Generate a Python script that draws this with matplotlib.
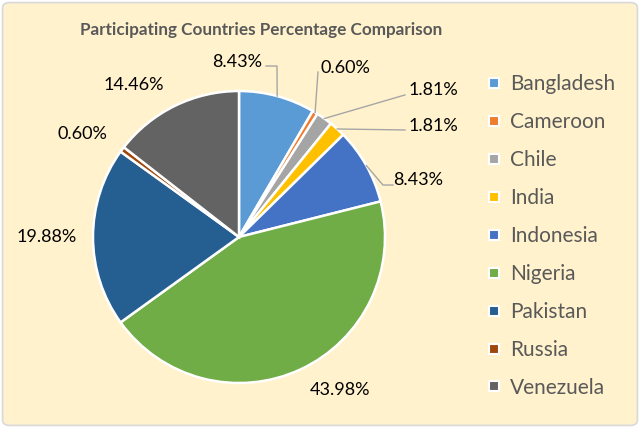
import numpy as np
import matplotlib.pyplot as plt
from matplotlib.lines import Line2D
from matplotlib.patches import FancyBboxPatch

plt.rcParams['font.family'] = ['Lato', 'DejaVu Sans']

countries = ['Bangladesh', 'Cameroon', 'Chile', 'India', 'Indonesia',
             'Nigeria', 'Pakistan', 'Russia', 'Venezuela']
percent = [8.43, 0.60, 1.81, 1.81, 8.43, 43.98, 19.88, 0.60, 14.46]
colors = ['#5B9BD5', '#ED7D31', '#A5A5A5', '#FFC000', '#4472C4',
          '#70AD47', '#255E91', '#9E480E', '#636363']

# label positions (pie radius = 1), and where a leader line ends (None = no line)
label_pos = [(-0.01, 1.20), (0.73, 1.16), (1.33, 1.01), (1.33, 0.76), (1.23, 0.39),
             (0.69, -1.05), (-1.315, 0.0), (-1.07, 0.705), (-0.72, 1.04)]
leader = [[(0.26, 1.171), (0.185, 1.171)], [(0.541, 1.13)], [(1.137, 0.973)],
          [(1.137, 0.733)], [(0.986, 0.356), (1.055, 0.356)],
          None, None, None, None]

W, H = 640, 428
cx, cy, r = 239, 237, 146  # pie centre / radius in pixels

fig = plt.figure(figsize=(W / 100, H / 100), dpi=100)
fig.patch.set_facecolor('white')
fig.patches.append(FancyBboxPatch((0.004, 0.006), 0.992, 0.988,
                                  boxstyle='round,pad=0,rounding_size=0.012',
                                  transform=fig.transFigure, facecolor='#FFF2CC',
                                  edgecolor='#D9D9D9', linewidth=1.2, zorder=-1))

ax = fig.add_axes([0, 0, 1, 1])
ax.patch.set_alpha(0)
wedges, _ = ax.pie(percent, colors=colors, startangle=90, counterclock=False,
                   wedgeprops=dict(edgecolor='white', linewidth=1.8))
ax.set_aspect('auto')
ax.set_xlim(-cx / r, (W - cx) / r)
ax.set_ylim(-(H - cy) / r, cy / r)
ax.axis('off')

for w, pct, pos, ld in zip(wedges, percent, label_pos, leader):
    ax.text(pos[0], pos[1], '%.2f%%' % pct, ha='center', va='center',
            fontsize=13, color='black')
    if ld is not None:
        mid = np.deg2rad((w.theta1 + w.theta2) / 2)
        pts = [(np.cos(mid), np.sin(mid))] + ld
        xs, ys = zip(*pts)
        ax.plot(xs, ys, color='#A6A6A6', lw=1.0)

fig.text(261 / W, 1 - 30 / H, 'Participating Countries Percentage Comparison',
         ha='center', va='center', fontsize=12.3, fontweight='bold', color='#595959')

handles = [Line2D([], [], marker='s', linestyle='none', markersize=7.5,
                  markerfacecolor=c, markeredgecolor='white', markeredgewidth=1.5)
           for c in colors]
leg = fig.legend(handles, countries, loc='upper left', bbox_to_anchor=(475 / W, 1 - 64 / H),
                 frameon=False, fontsize=15, labelcolor='#595959', handlelength=0.8,
                 handletextpad=0.4, labelspacing=0.86, borderpad=0)

fig.savefig('out.png', dpi=100, facecolor=fig.get_facecolor())
